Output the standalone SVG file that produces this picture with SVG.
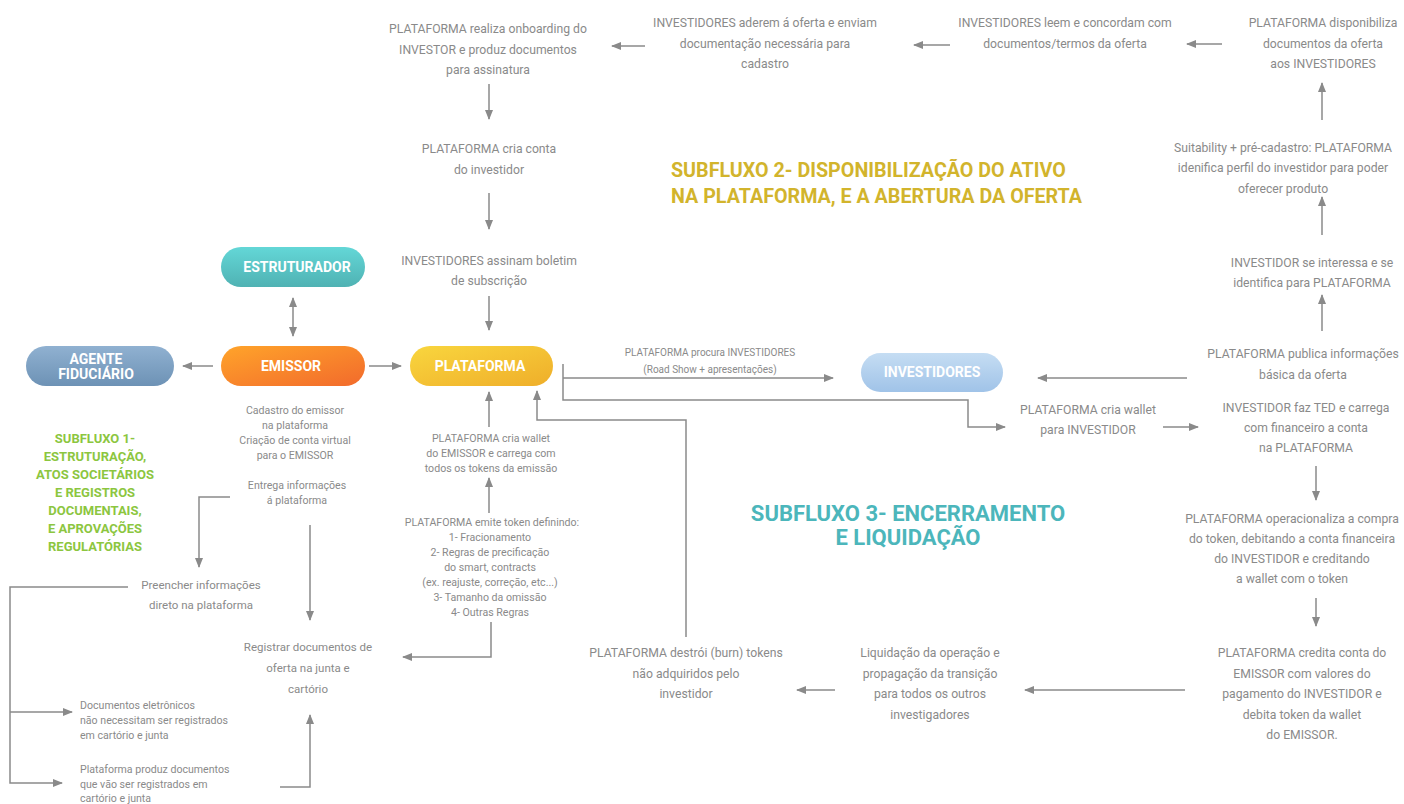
<svg xmlns="http://www.w3.org/2000/svg" width="1404" height="804" viewBox="0 0 1404 804">
  <style>
    .t { font-family: Roboto, "Liberation Sans", sans-serif; font-size: 12.2px; fill: #8a8a8a; text-anchor: middle; }
    .m { font-family: Roboto, "Liberation Sans", sans-serif; font-size: 11.5px; fill: #8a8a8a; text-anchor: middle; }
    .s { font-family: Roboto, "Liberation Sans", sans-serif; font-size: 10.6px; fill: #8a8a8a; text-anchor: middle; }
    .xs { font-family: Roboto, "Liberation Sans", sans-serif; font-size: 10px; fill: #8a8a8a; text-anchor: middle; }
    .sl { font-family: Roboto, "Liberation Sans", sans-serif; font-size: 10.6px; fill: #8a8a8a; }
    .pill { font-family: Roboto, "Liberation Sans", sans-serif; font-size: 14px; font-weight: bold; fill: #ffffff; text-anchor: middle; }
    .h1 { font-family: Roboto, "Liberation Sans", sans-serif; font-size: 13px; font-weight: bold; fill: #8cc63f; text-anchor: middle; }
    .h2 { font-family: Roboto, "Liberation Sans", sans-serif; font-size: 19.7px; font-weight: bold; fill: #d2b42c; }
    .h3 { font-family: Roboto, "Liberation Sans", sans-serif; font-size: 22px; font-weight: bold; fill: #4cb6bb; text-anchor: middle; }
    .c { fill: none; stroke: #8a8a8a; stroke-width: 1.5; }
    .a { marker-end: url(#arr); }
  </style>
  <defs>
    <marker id="arr" markerUnits="userSpaceOnUse" markerWidth="10" markerHeight="8" refX="9" refY="4" orient="auto-start-reverse">
      <path d="M0,0 L10,4 L0,8 z" fill="#8a8a8a"/>
    </marker>
    <linearGradient id="gTeal" x1="0" y1="0" x2="0" y2="1">
      <stop offset="0" stop-color="#63d7d7"/>
      <stop offset="1" stop-color="#4fb2b3"/>
    </linearGradient>
    <linearGradient id="gSteel" x1="0" y1="0" x2="0" y2="1">
      <stop offset="0" stop-color="#90b1d1"/>
      <stop offset="1" stop-color="#6d92b5"/>
    </linearGradient>
    <linearGradient id="gOrange" x1="0" y1="0" x2="1" y2="1">
      <stop offset="0" stop-color="#ffa42a"/>
      <stop offset="1" stop-color="#f26a2c"/>
    </linearGradient>
    <linearGradient id="gYellow" x1="0" y1="0" x2="1" y2="1">
      <stop offset="0" stop-color="#f9d63e"/>
      <stop offset="1" stop-color="#efae2a"/>
    </linearGradient>
    <linearGradient id="gBlue" x1="0" y1="0" x2="0" y2="1">
      <stop offset="0" stop-color="#c5ddf3"/>
      <stop offset="1" stop-color="#a0c3e8"/>
    </linearGradient>
  </defs>

  <!-- connectors -->
  <g id="connectors">
    <line class="c" x1="293" y1="298" x2="293" y2="336" marker-start="url(#arr)" marker-end="url(#arr)"/>
    <line class="c a" x1="213" y1="366" x2="183" y2="366"/>
    <line class="c a" x1="369" y1="366" x2="401" y2="366"/>
    <line class="c a" x1="645" y1="46" x2="612" y2="46"/>
    <line class="c a" x1="950" y1="45" x2="914" y2="45"/>
    <line class="c a" x1="1222" y1="44" x2="1187" y2="44"/>
    <line class="c a" x1="489" y1="84" x2="489" y2="119"/>
    <line class="c a" x1="489" y1="193" x2="489" y2="229"/>
    <line class="c a" x1="489" y1="296" x2="489" y2="330"/>
    <line class="c a" x1="1322" y1="120" x2="1322" y2="83"/>
    <line class="c a" x1="1322" y1="235" x2="1322" y2="197"/>
    <line class="c a" x1="1322" y1="331" x2="1322" y2="295"/>
    <line class="c a" x1="1187" y1="378" x2="1038" y2="378"/>
    <line class="c a" x1="563" y1="378" x2="833" y2="378"/>
    <path class="c a" d="M563,364 V400 H968 V427 H1005"/>
    <line class="c a" x1="1163" y1="427" x2="1198" y2="427"/>
    <line class="c a" x1="1316" y1="466" x2="1316" y2="500"/>
    <line class="c a" x1="1316" y1="598" x2="1316" y2="626"/>
    <line class="c a" x1="1185" y1="690" x2="1025" y2="690"/>
    <line class="c a" x1="835" y1="690" x2="797" y2="690"/>
    <path class="c a" d="M686,637 V420 H537 V391"/>
    <line class="c a" x1="489" y1="427" x2="489" y2="392"/>
    <line class="c a" x1="489" y1="513" x2="489" y2="478"/>
    <path class="c a" d="M491,622 V657 H403"/>
    <path class="c a" d="M230,497 H199 V567"/>
    <line class="c a" x1="310" y1="525" x2="310" y2="620"/>
    <path class="c a" d="M128,587 H10 V783 H62"/>
    <line class="c a" x1="10" y1="712" x2="72" y2="712"/>
    <path class="c a" d="M280,787 H310 V715"/>
  </g>

  <!-- main actors -->
  <g id="estruturador">
    <rect x="221" y="247" width="144" height="40" rx="20" fill="url(#gTeal)"/>
    <text class="pill" x="297" y="272">ESTRUTURADOR</text>
  </g>
  <g id="agente-fiduciario">
    <rect x="26" y="346" width="148" height="40" rx="20" fill="url(#gSteel)"/>
    <text class="pill" x="96" y="364">AGENTE</text>
    <text class="pill" x="96" y="379">FIDUCIÁRIO</text>
  </g>
  <g id="emissor">
    <rect x="221" y="346" width="144" height="40" rx="20" fill="url(#gOrange)"/>
    <text class="pill" x="291" y="371">EMISSOR</text>
  </g>
  <g id="plataforma">
    <rect x="410" y="346" width="143" height="40" rx="20" fill="url(#gYellow)"/>
    <text class="pill" x="480" y="371">PLATAFORMA</text>
  </g>
  <g id="investidores">
    <rect x="861" y="353" width="142" height="39" rx="19.5" fill="url(#gBlue)"/>
    <text class="pill" x="932" y="377">INVESTIDORES</text>
  </g>

  <!-- subflow headings -->
  <g id="subfluxo-1">
    <text class="h1" x="95" y="443">SUBFLUXO 1-</text>
    <text class="h1" x="95" y="461">ESTRUTURAÇÃO,</text>
    <text class="h1" x="95" y="479">ATOS SOCIETÁRIOS</text>
    <text class="h1" x="95" y="497">E REGISTROS</text>
    <text class="h1" x="95" y="515">DOCUMENTAIS,</text>
    <text class="h1" x="95" y="533">E APROVAÇÕES</text>
    <text class="h1" x="95" y="551">REGULATÓRIAS</text>
  </g>
  <g id="subfluxo-2">
    <text class="h2" x="671" y="177">SUBFLUXO 2- DISPONIBILIZAÇÃO DO ATIVO</text>
    <text class="h2" x="671" y="203">NA PLATAFORMA, E A ABERTURA DA OFERTA</text>
  </g>
  <g id="subfluxo-3">
    <text class="h3" x="908" y="521">SUBFLUXO 3- ENCERRAMENTO</text>
    <text class="h3" x="908" y="545">E LIQUIDAÇÃO</text>
  </g>

  <!-- steps: top row -->
  <g id="onboarding">
    <text class="t" x="488" y="33">PLATAFORMA realiza onboarding do</text>
    <text class="t" x="488" y="54">INVESTOR e produz documentos</text>
    <text class="t" x="488" y="74">para assinatura</text>
  </g>
  <g id="aderem">
    <text class="t" x="765" y="27">INVESTIDORES aderem á oferta e enviam</text>
    <text class="t" x="765" y="48">documentação necessária para</text>
    <text class="t" x="765" y="68">cadastro</text>
  </g>
  <g id="leem">
    <text class="t" x="1065" y="27">INVESTIDORES leem e concordam com</text>
    <text class="t" x="1065" y="48">documentos/termos da oferta</text>
  </g>
  <g id="disponibiliza">
    <text class="t" x="1323" y="27">PLATAFORMA disponibiliza</text>
    <text class="t" x="1323" y="48">documentos da oferta</text>
    <text class="t" x="1323" y="68">aos INVESTIDORES</text>
  </g>

  <!-- steps: onboarding column -->
  <g id="cria-conta">
    <text class="t" x="489" y="153">PLATAFORMA cria conta</text>
    <text class="t" x="489" y="174">do investidor</text>
  </g>
  <g id="boletim">
    <text class="t" x="489" y="265">INVESTIDORES assinam boletim</text>
    <text class="t" x="489" y="285">de subscrição</text>
  </g>

  <!-- steps: right column -->
  <g id="suitability">
    <text class="t" x="1283" y="152">Suitability + pré-cadastro: PLATAFORMA</text>
    <text class="t" x="1283" y="172">idenifica perfil do investidor para poder</text>
    <text class="t" x="1283" y="193">oferecer produto</text>
  </g>
  <g id="interessa">
    <text class="t" x="1312" y="267">INVESTIDOR se interessa e se</text>
    <text class="t" x="1312" y="287">identifica para PLATAFORMA</text>
  </g>
  <g id="publica">
    <text class="t" x="1303" y="358">PLATAFORMA publica informações</text>
    <text class="t" x="1303" y="379">básica da oferta</text>
  </g>
  <g id="ted">
    <text class="t" x="1306" y="412">INVESTIDOR faz TED e carrega</text>
    <text class="t" x="1306" y="432">com financeiro a conta</text>
    <text class="t" x="1306" y="452">na PLATAFORMA</text>
  </g>
  <g id="wallet-investidor">
    <text class="t" x="1088" y="414">PLATAFORMA cria wallet</text>
    <text class="t" x="1088" y="434">para INVESTIDOR</text>
  </g>
  <g id="operacionaliza">
    <text class="t" x="1292" y="523">PLATAFORMA operacionaliza a compra</text>
    <text class="t" x="1292" y="543">do token, debitando a conta financeira</text>
    <text class="t" x="1292" y="563">do INVESTIDOR e creditando</text>
    <text class="t" x="1292" y="583">a wallet com o token</text>
  </g>
  <g id="credita">
    <text class="t" x="1302" y="657">PLATAFORMA credita conta do</text>
    <text class="t" x="1302" y="678">EMISSOR com valores do</text>
    <text class="t" x="1302" y="698">pagamento do INVESTIDOR e</text>
    <text class="t" x="1302" y="719">debita token da wallet</text>
    <text class="t" x="1302" y="739">do EMISSOR.</text>
  </g>
  <g id="liquidacao">
    <text class="t" x="930" y="657">Liquidação da operação e</text>
    <text class="t" x="930" y="678">propagação da transição</text>
    <text class="t" x="930" y="698">para todos os outros</text>
    <text class="t" x="930" y="719">investigadores</text>
  </g>
  <g id="burn">
    <text class="t" x="686" y="657">PLATAFORMA destrói (burn) tokens</text>
    <text class="t" x="686" y="678">não adquiridos pelo</text>
    <text class="t" x="686" y="698">investidor</text>
  </g>

  <!-- steps: below PLATAFORMA -->
  <g id="procura">
    <text class="xs" x="710" y="356">PLATAFORMA procura INVESTIDORES</text>
    <text class="xs" x="710" y="373">(Road Show + apresentações)</text>
  </g>
  <g id="wallet-emissor">
    <text class="s" x="491" y="442">PLATAFORMA cria wallet</text>
    <text class="s" x="491" y="457">do EMISSOR e carrega com</text>
    <text class="s" x="491" y="472">todos os tokens da emissão</text>
  </g>
  <g id="emite-token">
    <text class="s" x="492" y="526">PLATAFORMA emite token definindo:</text>
    <text class="s" x="490" y="541">1- Fracionamento</text>
    <text class="s" x="490" y="556">2- Regras de precificação</text>
    <text class="s" x="490" y="571">do smart, contracts</text>
    <text class="s" x="490" y="586">(ex. reajuste, correção, etc...)</text>
    <text class="s" x="490" y="601">3- Tamanho da omissão</text>
    <text class="s" x="490" y="616">4- Outras Regras</text>
  </g>

  <!-- steps: EMISSOR column -->
  <g id="cadastro">
    <text class="s" x="295" y="414">Cadastro do emissor</text>
    <text class="s" x="295" y="429">na plataforma</text>
    <text class="s" x="295" y="444">Criação de conta virtual</text>
    <text class="s" x="295" y="459">para o EMISSOR</text>
  </g>
  <g id="entrega">
    <text class="s" x="297" y="489">Entrega informações</text>
    <text class="s" x="297" y="504">á plataforma</text>
  </g>
  <g id="preencher">
    <text class="m" x="201" y="589">Preencher informações</text>
    <text class="m" x="201" y="609">direto na plataforma</text>
  </g>
  <g id="registrar">
    <text class="m" x="308" y="651">Registrar documentos de</text>
    <text class="m" x="308" y="672">oferta na junta e</text>
    <text class="m" x="308" y="693">cartório</text>
  </g>
  <g id="eletronicos">
    <text class="sl" x="80" y="709">Documentos eletrônicos</text>
    <text class="sl" x="80" y="724">não necessitam ser registrados</text>
    <text class="sl" x="80" y="739">em cartório e junta</text>
  </g>
  <g id="produz">
    <text class="sl" x="80" y="773">Plataforma produz documentos</text>
    <text class="sl" x="80" y="788">que vão ser registrados em</text>
    <text class="sl" x="80" y="802">cartório e junta</text>
  </g>
</svg>
